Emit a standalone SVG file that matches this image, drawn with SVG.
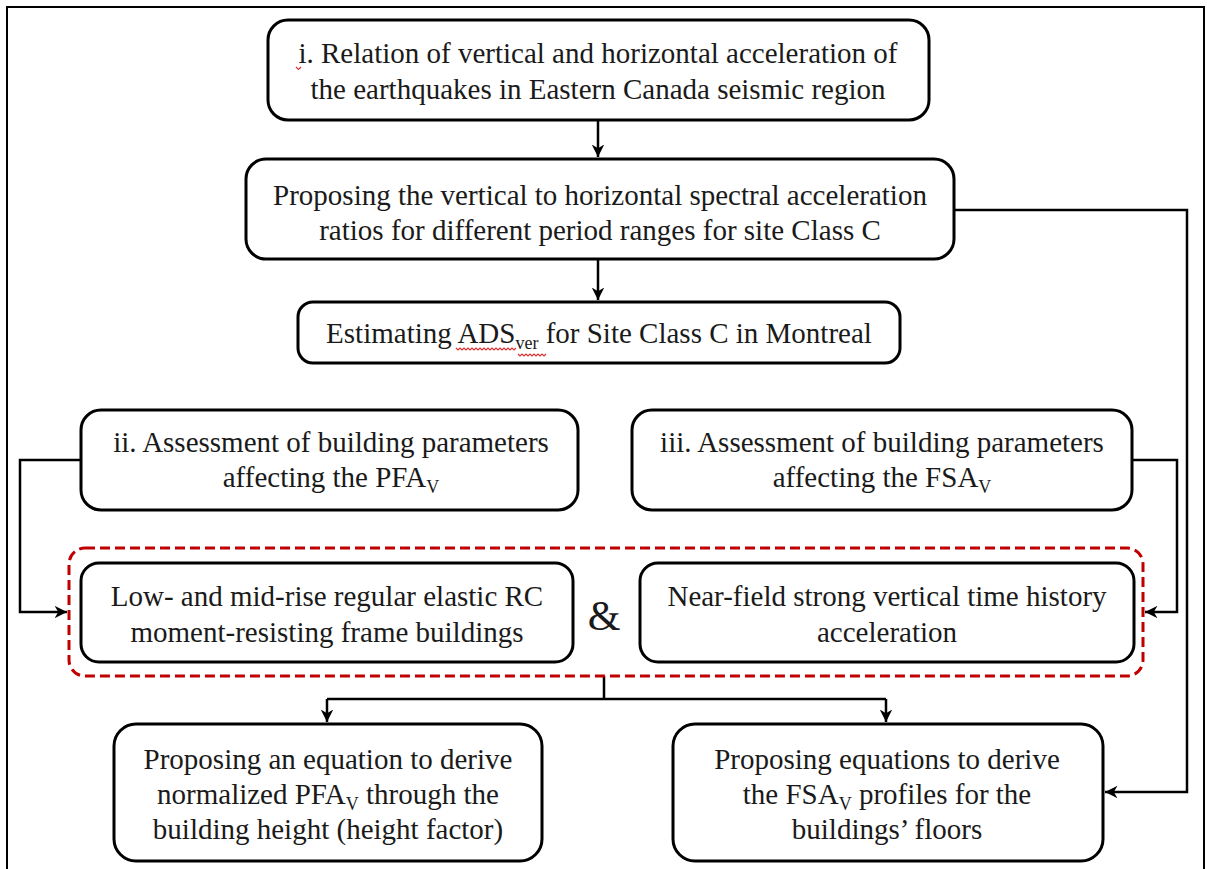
<svg xmlns="http://www.w3.org/2000/svg" width="1207" height="869" viewBox="0 0 1207 869">
<style>
.box{fill:#fff;stroke:#000;stroke-width:3}
.t{font-family:"Liberation Serif","Times New Roman",serif;font-size:29px;fill:#1a1a1a;text-anchor:middle}
.sub{font-size:18px}
.con{fill:none;stroke:#000;stroke-width:2.5}
.squig{fill:none;stroke:#e03030;stroke-width:1.2}
</style>
<defs>
<marker id="ah" viewBox="0 0 10 10" refX="10" refY="5" markerWidth="5" markerHeight="5" orient="auto" markerUnits="strokeWidth">
<path d="M0,0 L10,5 L0,10 L3,5 Z" fill="#000"/>
</marker>
</defs>
<rect x="0" y="0" width="1207" height="869" fill="#fff"/>
<path d="M7,869 V7 H1204 V869" fill="none" stroke="#000" stroke-width="2"/>

<g id="connectors">
<path class="con" d="M598,120 V157" marker-end="url(#ah)"/>
<path class="con" d="M598,259 V300" marker-end="url(#ah)"/>
<path class="con" d="M954,210 H1187 V792 H1105" marker-end="url(#ah)"/>
<path class="con" d="M81,460 H20 V612 H67" marker-end="url(#ah)"/>
<path class="con" d="M1132,460 H1177 V612 H1145" marker-end="url(#ah)"/>
<path class="con" d="M604,676 V699"/>
<path class="con" d="M327,699 H886"/>
<path class="con" d="M327,699 V722" marker-end="url(#ah)"/>
<path class="con" d="M886,699 V722" marker-end="url(#ah)"/>
</g>

<g id="n1">
<rect class="box" x="268" y="20" width="661" height="100" rx="20"/>
<text class="t" x="598" y="63">i. Relation of vertical and horizontal acceleration of</text>
<text class="t" x="598" y="99">the earthquakes in Eastern Canada seismic region</text>
<path class="squig" d="M296,67 l2.5,2.5 l2.5,-2.5"/>
</g>

<g id="n2">
<rect class="box" x="246" y="159" width="708" height="100" rx="20"/>
<text class="t" x="600" y="205">Proposing the vertical to horizontal spectral acceleration</text>
<text class="t" x="600" y="240">ratios for different period ranges for site Class C</text>
</g>

<g id="n3">
<rect class="box" x="298" y="302" width="602" height="61" rx="15"/>
<text class="t" x="599" y="343">Estimating ADS<tspan class="sub" dy="6">ver</tspan><tspan dy="-6"> for Site Class C in Montreal</tspan></text>
<path class="squig" d="M456,348 l2,2 l2,-2 l2,2 l2,-2 l2,2 l2,-2 l2,2 l2,-2 l2,2 l2,-2 l2,2 l2,-2 l2,2 l2,-2 l2,2 l2,-2 l2,2 l2,-2 l2,2 l2,-2 l2,2 l2,-2 l2,2 l2,-2 l2,2 l2,-2 l2,2 l2,-2 l2,2 l2,-2"/>
<path class="squig" d="M518,354 l2,2 l2,-2 l2,2 l2,-2 l2,2 l2,-2 l2,2 l2,-2 l2,2 l2,-2 l2,2 l2,-2 l2,2 l2,-2"/>
</g>

<g id="n4">
<rect class="box" x="81" y="410" width="497" height="100" rx="20"/>
<text class="t" x="331" y="452">ii. Assessment of building parameters</text>
<text class="t" x="331" y="487">affecting the PFA<tspan class="sub" dy="6">V</tspan></text>
</g>

<g id="n5">
<rect class="box" x="632" y="410" width="500" height="100" rx="20"/>
<text class="t" x="882" y="452">iii. Assessment of building parameters</text>
<text class="t" x="882" y="487">affecting the FSA<tspan class="sub" dy="6">V</tspan></text>
</g>

<g id="group">
<rect x="69" y="548" width="1074" height="128" rx="16" fill="none" stroke="#c00000" stroke-width="3" stroke-dasharray="10,5"/>
<g id="n6">
<rect class="box" x="81" y="563" width="492" height="99" rx="18"/>
<text class="t" x="327" y="606">Low- and mid-rise regular elastic RC</text>
<text class="t" x="327" y="642">moment-resisting frame buildings</text>
</g>
<text x="604" y="630" style="font-family:'Liberation Serif','Times New Roman',serif;font-size:42px;fill:#1a1a1a;text-anchor:middle">&amp;</text>
<g id="n7">
<rect class="box" x="640" y="563" width="494" height="99" rx="18"/>
<text class="t" x="887" y="606">Near-field strong vertical time history</text>
<text class="t" x="887" y="642">acceleration</text>
</g>
</g>

<g id="n8">
<rect class="box" x="114" y="724" width="428" height="137" rx="22"/>
<text class="t" x="328" y="769">Proposing an equation to derive</text>
<text class="t" x="328" y="804">normalized PFA<tspan class="sub" dy="6">V</tspan><tspan dy="-6"> through the</tspan></text>
<text class="t" x="328" y="839">building height (height factor)</text>
</g>

<g id="n9">
<rect class="box" x="673" y="724" width="430" height="137" rx="22"/>
<text class="t" x="887" y="769">Proposing equations to derive</text>
<text class="t" x="887" y="804">the FSA<tspan class="sub" dy="6">V</tspan><tspan dy="-6"> profiles for the</tspan></text>
<text class="t" x="887" y="839">buildings’ floors</text>
</g>
</svg>
